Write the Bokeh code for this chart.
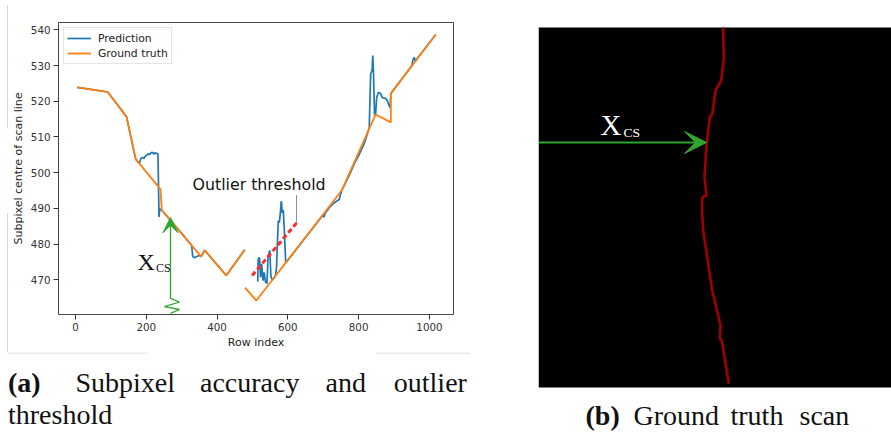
from bokeh.plotting import figure
from bokeh.layouts import row, column
from bokeh.models import Range1d, FixedTicker, Label, Arrow, VeeHead
from bokeh.embed import file_html
from bokeh.resources import INLINE

nan = float("nan")

# ---------------- data (panel a) ----------------
x_ticks = [0, 200, 400, 600, 800, 1000]
y_ticks = [470, 480, 490, 500, 510, 520, 530, 540]

gt_row = [5, 91, 144, 170, 240, 244, 355, 365, 426, 478, nan,
          479, 511, 752, 848, 891, 891, 1018]
gt_centre = [523.9, 522.6, 515.7, 503.8, 495.4, 489.5, 476.5, 478.3, 471.2, 478.4, nan,
             467.8, 464.2, 495.0, 516.3, 514.1, 522.2, 538.7]

pred_row = [5, 91, 144, 170, 180, 185, 189, 193, 197, 201, 205, 209, 213, 217, 221, 225, 229, 233, 236, 238, 244,
            300, 328, 331, 334, 338, 344, 350, 355, 365, 426, 478, nan,
            515, 516, 518, 520, 523, 526, 530, 533, 537, 541, 544, 547, 549, 552, 556, 565, 568, 570, 573, 576, 579,
            581, 582, 584, 587, 590, 594,
            640, 700, 702, 705, 720, 730, 745, 752, 760, 775, 790, 800, 815, 825, 830, 832, 834, 838, 840, 842, 845,
            848, 851, 856, 862, 867, 876, 881, 886, 889, 891, 950, 954, 957, 960, 1018]
pred_centre = [523.9, 522.6, 515.7, 503.8, 502.6, 504.0, 504.3, 504.0, 504.6, 504.9, 505.3, 505.0, 505.5, 505.7,
               505.2, 505.6, 505.4, 505.3, 487.6, 489.8, 489.5,
               483.0, 479.7, 476.8, 476.2, 476.3, 476.6, 476.8, 476.5, 478.3, 471.2, 478.4, nan,
               469.5, 475.4, 476.3, 476.0, 470.7, 474.5, 469.8, 472.1, 469.3, 469.0, 476.3, 477.7, 478.2, 471.0,
               469.9, 471.1, 473.5, 479.1, 486.6, 486.0, 488.9, 491.7, 492.0, 488.7, 489.6, 483.8, 474.7,
               480.6, 488.2, 487.5, 488.6, 490.6, 491.5, 492.5, 495.0, 496.6, 499.6, 503.0, 504.8, 508.0, 511.0,
               512.6, 520.7, 527.7, 528.6, 532.8, 527.7, 516.0, 516.5, 521.1, 522.5, 522.2, 521.0, 520.8, 520.2,
               518.8, 518.2, 522.2, 529.9, 531.8, 532.3, 531.3, 538.7]

threshold_row = [499, 626]
threshold_centre = [471.2, 486.1]
pointer_row = [624.4, 624.4]
pointer_centre = [493.6, 486.1]

xcs_zigzag_row = [268.4, 293.9, 251.5, 293.9, 268.4]
xcs_zigzag_centre = [464.8, 463.8, 462.5, 461.7, 460.6]
xcs_tip_centre = 487.4

# ---------------- data (panel b, image pixel coordinates) ----------------
image_width, image_height = 353, 360
scan_col = [184.6, 185.3, 182.7, 177.0, 173.7, 171.5, 168.0, 166.0, 168.0, 164.0, 163.3, 164.7, 173.7,
            182.0, 181.3, 183.3, 190.3]
scan_row = [0.0, 31.3, 53.0, 63.0, 87.0, 89.0, 116.3, 149.7, 168.0, 169.7, 179.7, 203.0, 263.0,
            298.0, 311.3, 313.0, 356.3]
xcs_arrow_col = [0.0, 168.0]
xcs_arrow_row = 115.0

BLUE = "#1f77b4"
ORANGE = "#ff7f0e"
GREEN = "#2ca62c"
RED = "#f92f2f"
SERIF = "Liberation Serif"
SANS = "DejaVu Sans"
ARTIFACT = "#d4d4d4"
CAP = 28
BASE_FIX = 0.37   # renderer places 'alphabetic' text this many em low

# page geometry (pixels)
PAGE_H = 433
STRIP_W = 8
LEFT_W = 538
TOP_H = 352
L, T, W, H = 58, 22, 395, 292          # chart frame, page pixels
X0, X1 = -48.0, 1068.0
Y0, Y1 = 460.3, 542.05


def ax(px):
    return X0 + (px - L) / W * (X1 - X0)


def ay(py):
    return Y1 - (py - T) / H * (Y1 - Y0)


def blank(width, height, xr, yr):
    f = figure(width=width, height=height, x_range=xr, y_range=yr,
               x_axis_location=None, y_axis_location=None,
               toolbar_location=None, output_backend="svg",
               min_border_left=0, min_border_right=0, min_border_top=0, min_border_bottom=0)
    f.frame_align = False
    f.outline_line_color = None
    f.background_fill_color = "white"
    f.border_fill_color = "white"
    f.xgrid.visible = False
    f.ygrid.visible = False
    return f


# ---------------- left strip (scan artifact line) ----------------
strip = blank(STRIP_W, TOP_H, Range1d(0, STRIP_W), Range1d(TOP_H, 0))
strip.segment(x0=[7, 7, 7, 7], y0=[5, 127, 213, 213], x1=[7, 8, 7, 8], y1=[127, 127, TOP_H, 213],
              line_color=ARTIFACT, line_width=1)

# ---------------- panel a chart ----------------
pa = figure(width=LEFT_W - STRIP_W, height=TOP_H, x_range=Range1d(X0, X1), y_range=Range1d(Y0, Y1),
            toolbar_location=None, output_backend="svg",
            min_border_left=L - STRIP_W, min_border_right=LEFT_W - L - W,
            min_border_top=T, min_border_bottom=TOP_H - T - H)
pa.frame_align = False
pa.background_fill_color = "white"
pa.border_fill_color = "white"
pa.outline_line_color = "#444444"
pa.outline_line_width = 1
pa.xgrid.visible = False
pa.ygrid.visible = False

pa.xaxis.ticker = FixedTicker(ticks=x_ticks)
pa.yaxis.ticker = FixedTicker(ticks=y_ticks)
pa.xaxis.axis_label = "Row index"
pa.yaxis.axis_label = "Subpixel centre of scan line"
for axis in (pa.xaxis[0], pa.yaxis[0]):
    axis.axis_line_color = None
    axis.major_tick_out = 5
    axis.major_tick_in = 0
    axis.major_tick_line_color = "#333333"
    axis.minor_tick_line_color = None
    axis.major_label_text_font = SANS
    axis.major_label_text_font_size = "10.3px"
    axis.major_label_text_color = "#333333"
    axis.axis_label_text_font = SANS
    axis.axis_label_text_font_style = "normal"
    axis.axis_label_text_font_size = "11px"
    axis.axis_label_text_color = "#222222"
pa.xaxis.major_label_standoff = 3
pa.xaxis.axis_label_standoff = 2
pa.yaxis.major_label_standoff = 3
pa.yaxis.axis_label_standoff = 3

pa.line(pred_row, pred_centre, line_color=BLUE, line_width=1.7, legend_label="Prediction")
pa.line(gt_row, gt_centre, line_color=ORANGE, line_width=1.8, legend_label="Ground truth")
pa.line(threshold_row, threshold_centre, line_color=RED, line_width=3, line_dash="5 3")
pa.line(pointer_row, pointer_centre, line_color="#222222", line_width=1, line_dash="1 1")
pa.line(xcs_zigzag_row, xcs_zigzag_centre, line_color=GREEN, line_width=1.3)
pa.add_layout(Arrow(end=VeeHead(size=15, fill_color=GREEN, line_color=GREEN, line_width=1),
                    x_start=xcs_zigzag_row[0], y_start=xcs_zigzag_centre[0],
                    x_end=xcs_zigzag_row[0], y_end=xcs_tip_centre,
                    line_color=GREEN, line_width=1.3))

leg = pa.legend[0]
leg.location = "top_left"
leg.margin = 5
leg.padding = 3
leg.spacing = 1
leg.label_standoff = 7
leg.glyph_width = 24
leg.glyph_height = 14
leg.label_height = 14
leg.label_text_font = SANS
leg.label_text_font_size = "10.8px"
leg.label_text_color = "#222222"
leg.border_line_color = "#cccccc"
leg.border_line_width = 1
leg.background_fill_alpha = 0.9


def chart_label(text, px, py, font, size, color="#111111"):
    pa.add_layout(Label(x=ax(px), y=ay(py - BASE_FIX * size), text=text, text_font=font,
                        text_font_size=f"{size}px", text_color=color, text_baseline="alphabetic"))


chart_label("Outlier threshold", 192, 190, SANS, 15.8)
chart_label("X", 137, 270.5, SERIF, 24)
chart_label("CS", 155.5, 272, SERIF, 12)

# ---------------- caption (a) ----------------
capa = blank(LEFT_W, PAGE_H - TOP_H, Range1d(0, LEFT_W), Range1d(PAGE_H, TOP_H))
capa.segment(x0=[7, 376], y0=[TOP_H + 0.5, TOP_H + 0.5], x1=[147, 470], y1=[TOP_H + 0.5, TOP_H + 0.5],
             line_color=ARTIFACT, line_width=1)
caption_a = [("(a)", 7.5, 392.7, "bold"), ("Subpixel", 75, 392.7, "normal"),
             ("accuracy", 199.5, 392.7, "normal"), ("and", 325, 392.7, "normal"),
             ("outlier", 393.3, 392.7, "normal"), ("threshold", 7.5, 424.5, "normal")]
for word, px, py, style in caption_a:
    capa.add_layout(Label(x=px, y=py - BASE_FIX * CAP, text=word, text_font=SERIF, text_font_style=style,
                          text_font_size=f"{CAP}px", text_color="#111111", text_baseline="alphabetic"))

# ---------------- panel b ----------------
OX, OY = 538, 27   # page position of the scan image
pb = blank(891 - LEFT_W, PAGE_H, Range1d(0, 891 - OX), Range1d(PAGE_H - OY, -OY))
pb.quad(left=[0], right=[image_width], top=[0], bottom=[image_height],
        fill_color="black", line_color=None)
pb.line(scan_col, scan_row, line_color="#a00000", line_width=2.6)
pb.add_layout(Arrow(end=VeeHead(size=22, fill_color=GREEN, line_color=GREEN, line_width=1),
                    x_start=xcs_arrow_col[0], y_start=xcs_arrow_row,
                    x_end=xcs_arrow_col[1], y_end=xcs_arrow_row,
                    line_color=GREEN, line_width=2))


def image_label(text, px, py, size, color, style="normal"):
    pb.add_layout(Label(x=px - OX, y=py - OY - BASE_FIX * size, text=text, text_font=SERIF,
                        text_font_style=style, text_font_size=f"{size}px", text_color=color,
                        text_baseline="alphabetic"))


image_label("X", 600, 135, 29, "white")
image_label("CS", 623, 137.3, 13.5, "white")
caption_b = [("(b)", 585, 425, "bold"), ("Ground", 633, 425, "normal"),
             ("truth", 730, 425, "normal"), ("scan", 799, 425, "normal")]
for word, px, py, style in caption_b:
    image_label(word, px, py, CAP, "#111111", style)

layout = row(column(row(strip, pa, spacing=0), capa, spacing=0), pb, spacing=0)
open("out.html", "w").write(file_html(layout, INLINE))
